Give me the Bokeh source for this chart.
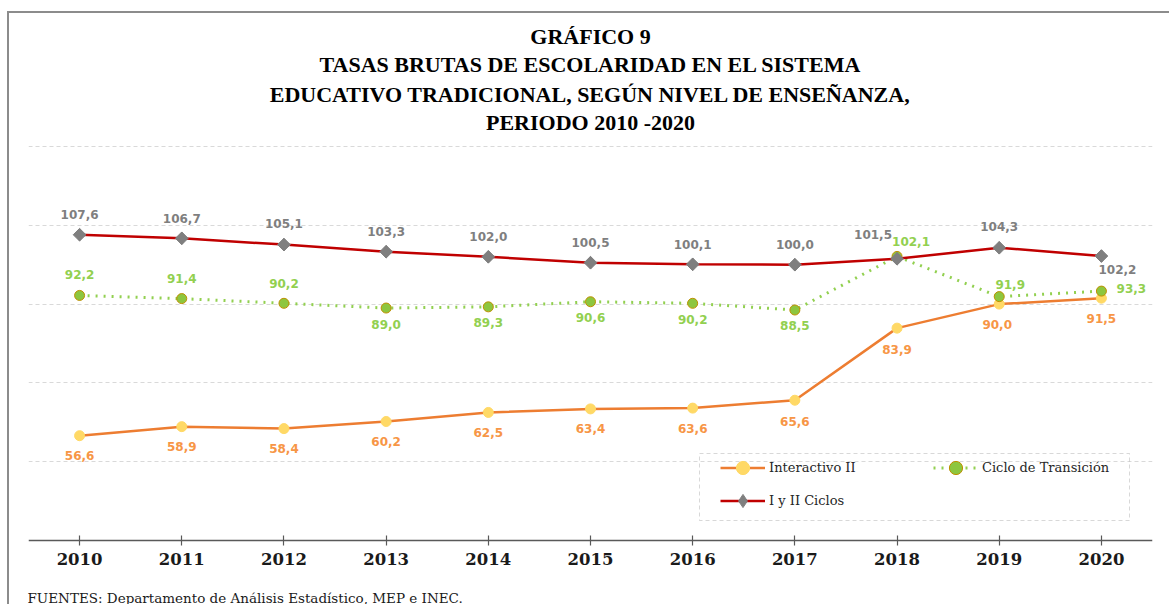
import math
from bokeh.plotting import figure
from bokeh.models import (FixedTicker, Legend, LegendItem, BoxAnnotation,
                          Range1d, Grid, Title)
from bokeh.embed import file_html
from bokeh.resources import INLINE
from bokeh.core.properties import value

# ---------------- data ----------------
years = [2010, 2011, 2012, 2013, 2014, 2015, 2016, 2017, 2018, 2019, 2020]
year_labels = ["2010", "2011", "2012", "2013", "2014", "2015", "2016", "2017", "2018", "2019", "2020"]
interactivo_ii = [56.6, 58.9, 58.4, 60.2, 62.5, 63.4, 63.6, 65.6, 83.9, 90.0, 91.5]
ciclo_transicion = [92.2, 91.4, 90.2, 89.0, 89.3, 90.6, 90.2, 88.5, 102.1, 91.9, 93.3]
i_ii_ciclos = [107.6, 106.7, 105.1, 103.3, 102.0, 100.5, 100.1, 100.0, 101.5, 104.3, 102.2]
series_names = ["Interactivo II", "Ciclo de Transición", "I y II Ciclos"]
title_lines = ["GRÁFICO 9",
               "TASAS BRUTAS DE ESCOLARIDAD EN EL SISTEMA",
               "EDUCATIVO TRADICIONAL, SEGÚN NIVEL DE ENSEÑANZA,",
               "PERIODO 2010 -2020"]
source_text = "FUENTES: Departamento de Análisis Estadístico, MEP e INEC."
grid_ticks = [50, 70, 90, 110, 130]
axis_base = 30
axis_top = 130

# ---------------- label placement (screen px offsets) ----------------
off_inter_x = [0, 0, 0, 0, 0, 0, 0, 0, 0, -2, 0]
off_inter_y = [20, 20, 20, 20, 20, 20, 20, 21, 21, 20, 20]
off_ciclo_x = [0, 0, 0, 0, 0, 0, 0, 0, 14, 11, 30]
off_ciclo_y = [-21, -20, -20, 16, 16, 16, 16, 15, -15, -12, -3]
off_i_x = [0, 0, 0, 0, 0, 0, 0, 0, -24, 0, 16]
off_i_y = [-20, -20, -21, -20, -20, -20, -20, -20, -24, -21, 13]
# gap for each title line (last line first = nearest to the plot)
title_standoffs = [0, 2, 4, -2]


def fmt(v):
    return f"{v:.1f}".replace(".", ",")


# ---------------- page layout (pixels) ----------------
OX, OY = 9, 13            # canvas origin on the page (after css margin + border)
W, H = 1171 - OX, 606 - OY
frame_left, frame_right = 28, 1152
frame_top, frame_bottom = 134, 586
grid_top_px, axis_px = 146, 540      # where 130 and 30 sit on the page
ppu = (axis_px - grid_top_px) / (axis_top - axis_base)
y_lo = axis_base - (frame_bottom - axis_px) / ppu
y_hi = axis_top + (grid_top_px - frame_top) / ppu

p = figure(width=W, height=H, output_backend="svg", toolbar_location=None,
           x_range=Range1d(2009.5, 2020.5), y_range=Range1d(y_lo, y_hi),
           y_axis_location=None, title=None,
           min_border_left=frame_left - OX, min_border_right=1171 - frame_right,
           min_border_top=frame_top - OY, min_border_bottom=606 - frame_bottom)
p.styles = {"margin-left": "7px", "margin-top": "11px",
            "border-left": "2px solid #8c8c8c", "border-top": "2px solid #8c8c8c"}
p.outline_line_color = None
p.background_fill_color = "white"
p.border_fill_color = "white"
p.xgrid.visible = False
for g in p.ygrid:
    g.visible = False

grid = Grid(dimension=1, ticker=FixedTicker(ticks=grid_ticks),
            grid_line_color="#d9d9d9", grid_line_dash="4 3", grid_line_width=1)
p.add_layout(grid)

ax = p.xaxis[0]
ax.fixed_location = axis_base
ax.ticker = FixedTicker(ticks=years)
ax.major_label_overrides = {y: l for y, l in zip(years, year_labels)}
ax.minor_tick_line_color = None
ax.axis_line_color = "#595959"
ax.axis_line_width = 1.5
ax.major_tick_line_color = "#595959"
ax.major_tick_line_width = 1.2
ax.major_tick_in = 5
ax.major_tick_out = 5
ax.major_label_standoff = 7
ax.major_label_text_font = "DejaVu Serif"
ax.major_label_text_font_style = "bold"
ax.major_label_text_font_size = "16.5px"
ax.major_label_text_color = "#1a1a1a"

# ---------------- series ----------------
l1 = p.line(years, interactivo_ii, line_color="#ed7d31", line_width=2.5)
s1 = p.scatter(years, interactivo_ii, marker="circle", size=10,
               fill_color="#ffd966", line_color="#ffd966")

l2 = p.line(years, ciclo_transicion, line_color="#92d050", line_width=3,
            line_dash="2 6")
s2 = p.scatter(years, ciclo_transicion, marker="circle", size=10,
               fill_color="#8dc63f", line_color="#bf9000", line_width=1)

l3 = p.line(years, i_ii_ciclos, line_color="#c00000", line_width=2.5)
# diamond used for the legend; the rotated square drawn over it covers it fully
s3_leg = p.scatter(years, i_ii_ciclos, marker="diamond", size=12,
                   fill_color="#7f7f7f", line_color="#7f7f7f")
s3 = p.scatter(years, i_ii_ciclos, marker="square", size=9, angle=math.pi / 4,
               fill_color="#7f7f7f", line_color="#7f7f7f")

# ---------------- data labels ----------------
lab_common = dict(text_font=value("DejaVu Sans"), text_font_style="bold",
                  text_font_size="12px", text_align="center",
                  text_baseline="middle")
p.text(years, interactivo_ii, text=[fmt(v) for v in interactivo_ii],
       x_offset=off_inter_x, y_offset=off_inter_y, text_color="#f79646", **lab_common)
p.text(years, ciclo_transicion, text=[fmt(v) for v in ciclo_transicion],
       x_offset=off_ciclo_x, y_offset=off_ciclo_y, text_color="#92d050", **lab_common)
p.text(years, i_ii_ciclos, text=[fmt(v) for v in i_ii_ciclos],
       x_offset=off_i_x, y_offset=off_i_y, text_color="#7f7f7f", **lab_common)

# ---------------- legend ----------------
legend = Legend(items=[LegendItem(label=series_names[0], renderers=[l1, s1]),
                       LegendItem(label=series_names[2], renderers=[l3, s3_leg]),
                       LegendItem(label=series_names[1], renderers=[l2, s2])],
                ncols=2, location=(720 - frame_left, frame_bottom - 517),
                padding=0, margin=0, spacing=0,
                glyph_width=45, glyph_height=33, label_height=33,
                label_width=164, label_standoff=4,
                label_text_font="DejaVu Serif", label_text_font_size="13px",
                label_text_color="#262626",
                border_line_color=None, background_fill_alpha=0)
p.add_layout(legend)

legend_box = BoxAnnotation(left=697 - OX, right=1127 - OX, top=451 - OY, bottom=518 - OY,
                           left_units="canvas", right_units="canvas",
                           top_units="canvas", bottom_units="canvas",
                           fill_alpha=0, line_color="#7f7f7f", line_width=1,
                           line_dash="4 3")
p.add_layout(legend_box)

# ---------------- titles / footer ----------------
for line, so in zip(reversed(title_lines), title_standoffs):
    p.add_layout(Title(text=line, align="center",
                       text_font="Liberation Serif", text_font_style="bold",
                       text_font_size="22px", text_color="#000000",
                       standoff=so), "above")

p.add_layout(Title(text=source_text, align="left", offset=-1,
                   text_font="DejaVu Serif", text_font_style="normal",
                   text_font_size="13.5px", text_color="#1a1a1a",
                   standoff=2), "below")

open("out.html", "w").write(file_html(p, INLINE))
